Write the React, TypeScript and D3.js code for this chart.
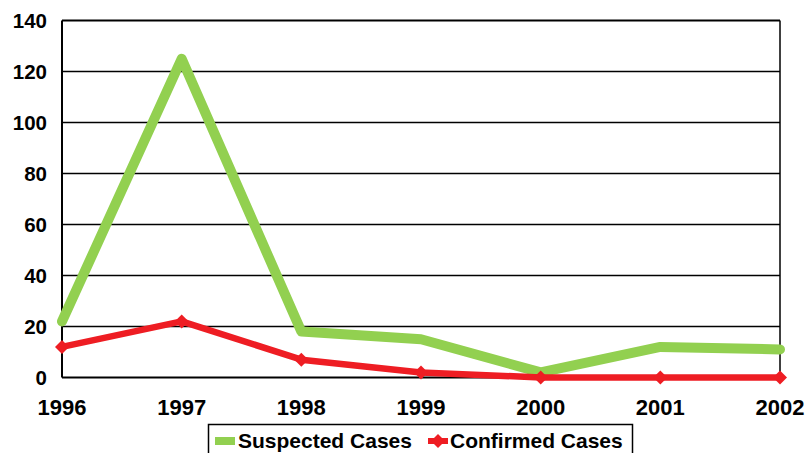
import React from "react";
import * as d3 from "d3";

const years = ["1996", "1997", "1998", "1999", "2000", "2001", "2002"];
const suspected = [22, 125, 18, 15, 2, 12, 11];
const confirmed = [12, 22, 7, 2, 0, 0, 0];
const yTicks = [0, 20, 40, 60, 80, 100, 120, 140];
const seriesNames = ["Suspected Cases", "Confirmed Cases"];

const W = 808;
const H = 453;
const left = 62;
const right = 780;
const top = 20.5;
const bottom = 377.5;
const green = "#92D050";
const red = "#EE1D23";
const font = "'Liberation Sans', Arial, sans-serif";

export default function App() {
  const x = d3.scalePoint<string>().domain(years).range([left, right]);
  const y = d3.scaleLinear().domain([0, 140]).range([bottom, top]);
  const line = d3
    .line<number>()
    .x((_, i) => x(years[i]) as number)
    .y((d) => y(d));
  const diamond = (cx: number, cy: number, r: number) =>
    `M${cx},${cy - r}L${cx + r},${cy}L${cx},${cy + r}L${cx - r},${cy}Z`;

  return (
    <svg
      width={W}
      height={H}
      style={{ position: "absolute", left: 0, top: 0 }}
      fontFamily={font}
      fontWeight="bold"
    >
      <rect width={W} height={H} fill="#fff" />
      {yTicks.map((t) => (
        <g key={t}>
          {t > 0 && (
            <line x1={left} x2={right} y1={y(t)} y2={y(t)} stroke="#000" strokeWidth={t === 140 ? 2 : 1.5} />
          )}
          <text x={47} y={y(t)} dy="0.36em" textAnchor="end" fontSize={20.5} fill="#000">
            {t}
          </text>
        </g>
      ))}
      <line x1={left} x2={left} y1={top} y2={bottom} stroke="#000" strokeWidth={2} />
      <line x1={right} x2={right} y1={top} y2={bottom} stroke="#000" strokeWidth={1.5} />
      <line x1={left} x2={right} y1={bottom} y2={bottom} stroke="#000" strokeWidth={2} />
      {years.map((yr) => (
        <text key={yr} x={x(yr) as number} y={415} textAnchor="middle" fontSize={22} fill="#000">
          {yr}
        </text>
      ))}
      <path d={line(suspected) || ""} fill="none" stroke={green} strokeWidth={10} strokeLinejoin="round" strokeLinecap="round" />
      <path d={line(confirmed) || ""} fill="none" stroke={red} strokeWidth={6.5} strokeLinejoin="round" />
      {confirmed.map((v, i) => (
        <path key={i} d={diamond(x(years[i]) as number, y(v), 7)} fill={red} />
      ))}
      <g>
        <rect x={208.5} y={424.5} width={424} height={40} fill="#fff" stroke="#000" strokeWidth={1.5} />
        <line x1={215} x2={235} y1={441} y2={441} stroke={green} strokeWidth={8} />
        <text x={238} y={448} fontSize={21} fill="#000">{seriesNames[0]}</text>
        <line x1={428} x2={448} y1={441} y2={441} stroke={red} strokeWidth={6} />
        <path d={diamond(438, 441, 7)} fill={red} />
        <text x={450} y={448} fontSize={21} fill="#000">{seriesNames[1]}</text>
      </g>
    </svg>
  );
}
